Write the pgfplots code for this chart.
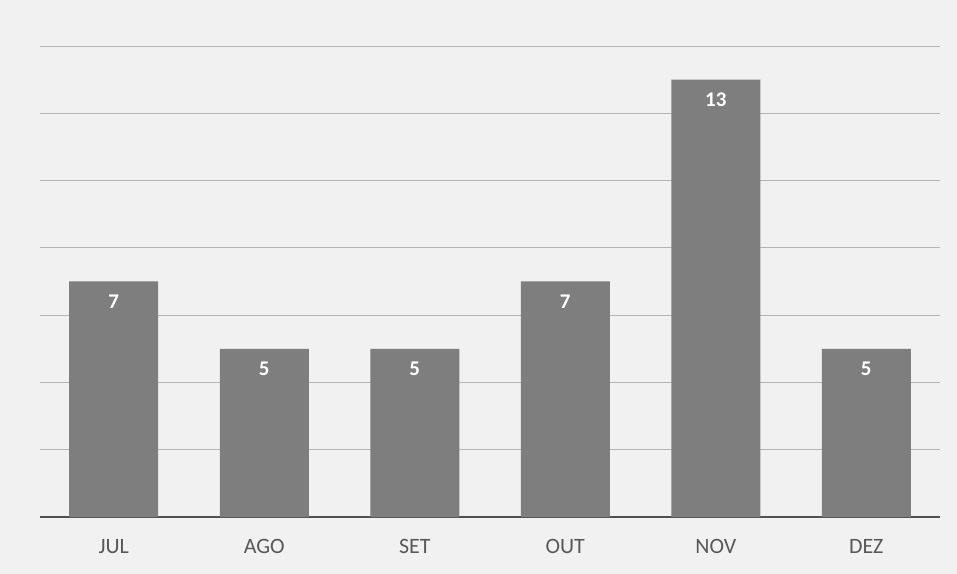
\documentclass[border=0pt]{standalone}
\usepackage{fontspec}
\setmainfont{Carlito}
\usepackage{pgfplots}
\pgfplotsset{compat=1.18}
\definecolor{bg}{HTML}{F1F1F1}
\definecolor{barc}{HTML}{7E7E7E}
\definecolor{gridc}{HTML}{B4B4B4}
\definecolor{axc}{HTML}{505050}
\definecolor{labc}{HTML}{585858}

\begin{document}
\begin{tikzpicture}
\fill[bg] (-40bp,-57bp) rectangle (917bp,517bp);
\begin{axis}[
  at={(0,0)}, anchor=south west,
  scale only axis, width=900bp, height=471bp,
  xmin=-0.49, xmax=5.49, ymin=0, ymax=14,
  ytick={2,4,...,14}, yticklabels={},
  xtick=data, xticklabels={JUL,AGO,SET,OUT,NOV,DEZ},
  major tick length=0pt,
  ymajorgrids, grid style={gridc, line width=0.8bp},
  axis x line*=bottom, axis y line*=left,
  y axis line style={draw=none},
  x axis line style={axc, line width=2.5bp, -},
  ticklabel style={font=\fontsize{22}{26}\selectfont, text=labc},
  xticklabel style={anchor=base, yshift=-36bp},
  /pgf/number format/assume math mode=true,
  nodes near coords,
  every node near coord/.append style={anchor=north, yshift=-10bp, text=white, font=\bfseries\fontsize{21}{25}\selectfont},
]
\addplot[ybar, bar width=89bp, fill=barc, draw=none] coordinates {
  (0,7) (1,5) (2,5) (3,7) (4,13) (5,5)
};
\end{axis}
\end{tikzpicture}
\end{document}
